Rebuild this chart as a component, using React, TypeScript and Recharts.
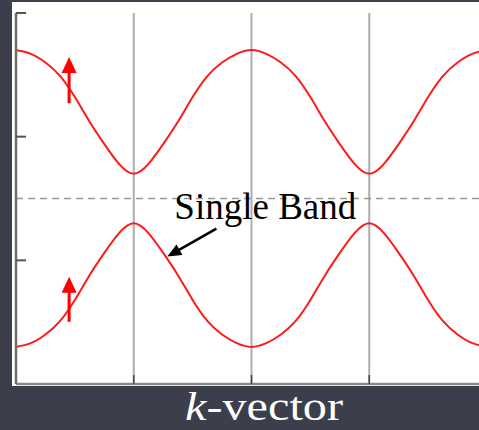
import { LineChart, Line, XAxis, YAxis, CartesianGrid, ReferenceLine, ReferenceDot } from 'recharts'

// k positions in units of the grid spacing (8 samples per half period)
const kPoints = [
  0, 0.125, 0.25, 0.375, 0.5, 0.625, 0.75, 0.875,
  1, 1.125, 1.25, 1.375, 1.5, 1.625, 1.75, 1.875,
  2, 2.125, 2.25, 2.375, 2.5, 2.625, 2.75, 2.875,
  3, 3.125, 3.25, 3.375, 3.5, 3.625, 3.75, 3.875, 4,
]

// upper band: broad maxima, tight minima at the zone edges
const upperBand = [
  2.70, 2.67, 2.60, 2.49, 2.32, 2.12, 1.94, 1.78,
  1.70, 1.78, 1.94, 2.12, 2.32, 2.49, 2.60, 2.67,
  2.70, 2.67, 2.60, 2.49, 2.32, 2.12, 1.94, 1.78,
  1.70, 1.78, 1.94, 2.12, 2.32, 2.49, 2.60, 2.67, 2.70,
]

// lower band: mirror image below the gap
const lowerBand = [
  0.30, 0.33, 0.40, 0.51, 0.68, 0.88, 1.06, 1.22,
  1.30, 1.22, 1.06, 0.88, 0.68, 0.51, 0.40, 0.33,
  0.30, 0.33, 0.40, 0.51, 0.68, 0.88, 1.06, 1.22,
  1.30, 1.22, 1.06, 0.88, 0.68, 0.51, 0.40, 0.33, 0.30,
]

const xTicks = [0, 1, 2, 3, 4]
const yTicks = [0, 1, 2, 3]
const gapCenter = 1.5

// spin arrows: [k, tail, tip]
const spinArrows = [
  [0.451, 2.27, 2.645],
  [0.451, 0.503, 0.868],
]

// annotation arrow: tail then tip, in data coords
const bandPointer = [
  { x: 1.702, y: 1.257 },
  { x: 1.285, y: 1.03 },
]
const bandLabel = { x: 1.345, y: 1.338, text: 'Single Band' }

const data = kPoints.map((k, i) => ({ k, upper: upperBand[i], lower: lowerBand[i] }))

const serif = 'Liberation Serif, Tinos, DejaVu Serif, serif'

const hiddenTick = () => <g />

function arrowShape(p: any, color: string, headLen: number, headW: number, sw: number) {
  const { x1, y1, x2, y2 } = p
  const dx = x2 - x1
  const dy = y2 - y1
  const len = Math.sqrt(dx * dx + dy * dy) || 1
  const ux = dx / len
  const uy = dy / len
  const bx = x2 - ux * headLen
  const by = y2 - uy * headLen
  const px = -uy * headW / 2
  const py = ux * headW / 2
  return (
    <g>
      <line x1={x1} y1={y1} x2={bx + ux} y2={by + uy} stroke={color} strokeWidth={sw} />
      <polygon points={`${x2},${y2} ${bx + px},${by + py} ${bx - px},${by - py}`} fill={color} />
    </g>
  )
}

export default function App() {
  return (
    <div style={{ position: 'relative', width: 479, height: 430, overflow: 'hidden', background: '#3b3f4c' }}>
      <style>{'body{margin:0;overflow:hidden;background:#3b3f4c}'}</style>
      <div style={{ position: 'absolute', left: 12, top: 2, width: 480, height: 384, background: '#fff' }} />
      <div style={{ position: 'absolute', left: 0, top: 0 }}>
        <LineChart width={487} height={386} data={data} margin={{ top: 13, right: 0, bottom: 2, left: 16 }}>
          <CartesianGrid horizontal={false} stroke="#adadad" strokeWidth={2} />
          <XAxis
            dataKey="k"
            type="number"
            domain={[0, 4]}
            ticks={xTicks}
            height={1}
            mirror
            tick={hiddenTick}
            tickSize={9}
            axisLine={{ stroke: '#8a8a8a', strokeWidth: 2.5 }}
            tickLine={{ stroke: '#444', strokeWidth: 1.5 }}
          />
          <YAxis
            type="number"
            domain={[0, 3]}
            ticks={yTicks}
            width={1}
            mirror
            tick={hiddenTick}
            tickSize={10}
            axisLine={{ stroke: '#6e6e6e', strokeWidth: 2.5 }}
            tickLine={{ stroke: '#555', strokeWidth: 2 }}
          />
          <ReferenceLine y={gapCenter} stroke="#999" strokeWidth={1.5} strokeDasharray="7 5" />
          <Line
            dataKey="upper"
            type="natural"
            stroke="#ff1a1a"
            strokeWidth={2}
            dot={false}
            isAnimationActive={false}
          />
          <Line
            dataKey="lower"
            type="natural"
            stroke="#ff1a1a"
            strokeWidth={2}
            dot={false}
            isAnimationActive={false}
          />
          {spinArrows.map(([k, tail, tip], i) => (
            <ReferenceLine
              key={`spin-${i}`}
              segment={[{ x: k, y: tail }, { x: k, y: tip }]}
              stroke="#f00"
              shape={(p: any) => arrowShape(p, '#f00', 16, 15, 3)}
            />
          ))}
          <ReferenceLine
            segment={bandPointer}
            stroke="#000"
            shape={(p: any) => arrowShape(p, '#000', 14, 12, 2.5)}
          />
          <ReferenceDot
            x={bandLabel.x}
            y={bandLabel.y}
            r={0}
            shape={(p: any) => (
              <text x={p.cx} y={p.cy} style={{ fontFamily: serif }} fontSize={37} fill="#000">
                {bandLabel.text}
              </text>
            )}
          />
        </LineChart>
      </div>
      <svg width={479} height={430} style={{ position: 'absolute', left: 0, top: 0, pointerEvents: 'none' }}>
        <text
          x={185}
          y={420}
          style={{ fontFamily: serif }}
          fontSize={39}
          fill="#fff"
          textLength={158}
          lengthAdjust="spacingAndGlyphs"
        >
          <tspan fontStyle="italic">k</tspan>-vector
        </text>
      </svg>
    </div>
  )
}
